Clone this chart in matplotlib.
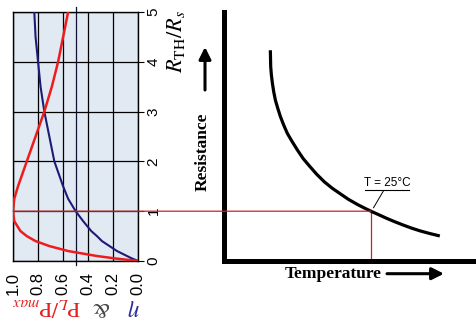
import matplotlib
matplotlib.use("Agg")
import matplotlib.pyplot as plt
from matplotlib.patches import ConnectionPatch, FancyArrowPatch

plt.rcParams['font.family'] = ['Liberation Sans', 'DejaVu Sans']
plt.rcParams['mathtext.fontset'] = 'stix'

# Load-matching curves: efficiency and relative power vs. R_TH / R_s
ratio = [0.0, 0.05, 0.1, 0.2, 0.3, 0.4, 0.5, 0.6, 0.8, 1.0, 1.25, 1.5,
         2.0, 2.5, 3.0, 3.5, 4.0, 4.5, 5.0]
efficiency = [0.0, 0.05, 0.09, 0.17, 0.23, 0.29, 0.33, 0.375, 0.44, 0.5, 0.56,
              0.6, 0.67, 0.71, 0.75, 0.78, 0.8, 0.82, 0.83]
power_ratio = [0.0, 0.18, 0.33, 0.56, 0.71, 0.82, 0.89, 0.94, 0.99, 1.0, 0.99,
               0.96, 0.89, 0.82, 0.75, 0.69, 0.64, 0.6, 0.56]
eff_ticks = [1.0, 0.8, 0.6, 0.4, 0.2, 0.0]
eff_labels = ['1.0', '0.8', '0.6', '0.4', '0.2', '0.0']
ratio_ticks = [0, 1, 2, 3, 4, 5]
eff_marker = 0.5

# Thermistor characteristic: resistance (relative to R at 25 °C) vs. temperature
temperature = [-5.9, -5.8, -5.58, -5.28, -4.88, -4.36, -3.65, -2.82, -1.81,
               -0.67, 0.77, 2.39, 4.14, 6.07, 8.22, 10.67, 13.13, 15.58,
               18.04, 20.71, 22.79, 25.0, 29.9, 32.45, 35.0, 37.5, 40.1,
               42.9, 45.7]
resistance = [4.20, 3.90, 3.73, 3.57, 3.40, 3.23, 3.07, 2.90, 2.73,
              2.56, 2.40, 2.23, 2.06, 1.91, 1.75, 1.59, 1.46, 1.35,
              1.24, 1.14, 1.07, 1.0, 0.855, 0.785, 0.72, 0.66, 0.605,
              0.555, 0.51]
t_ref = 25.0
r_ref = 1.0

W, H = 477, 332
fig = plt.figure(figsize=(W / 100, H / 100), dpi=100)
fig.patch.set_facecolor('white')


def fx(px):
    return px / W


def fy(py):
    return 1 - py / H


# ---- left panel (rotated layout) ----
ax1 = fig.add_axes([fx(13), fy(261), (138.3 - 13) / W, (261 - 12) / H])
ax1.set_facecolor('#e1e9f3')
ax1.set_xlim(1.0, 0.0)
ax1.set_ylim(0, 5)
ax1.plot(efficiency, ratio, color='#1c1c78', lw=1.5, zorder=3)
ax1.plot(power_ratio, ratio, color='#ee1c1c', lw=1.8, zorder=3)
ax1.set_xticks(eff_ticks)
ax1.set_xticklabels(eff_labels, rotation=90, fontsize=12)
ax1.set_yticks(ratio_ticks)
ax1.set_yticklabels([str(v) for v in ratio_ticks], rotation=90, fontsize=11,
                    va='center')
ax1.yaxis.tick_right()
ax1.tick_params(axis='x', length=0, pad=8)
ax1.tick_params(axis='y', length=4, width=0.8, pad=2)
ax1.grid(True, color='black', lw=0.9)
ax1.set_axisbelow(True)
for s in ax1.spines.values():
    s.set_color('black')
    s.set_linewidth(1.0)
ax1.plot([eff_marker, eff_marker], [-0.08, 5.11], color='#111133', lw=0.9,
         clip_on=False, zorder=2)

fig.text(fx(176), fy(41), r'$R_{\mathrm{TH}}/R_s$', rotation=90, fontsize=16,
         ha='center', va='center')
fig.text(fx(134), fy(308), r'$\eta$', rotation=180, fontsize=17,
         color='#2a2aa0', ha='center', va='center')
fig.text(fx(101), fy(307), '&', rotation=180, fontsize=16,
         family='STIXGeneral', color='#444444', ha='center', va='center')
fig.text(fx(46), fy(307), r'$\mathrm{P}_L/\mathrm{P}_{max}$', rotation=180,
         fontsize=16, color='#e02020', ha='center', va='center')

# ---- right panel: thermistor curve ----
ax2 = fig.add_axes([fx(224.5), fy(261), (W - 224.5) / W, (261 - 12) / H])
ax2.set_facecolor('none')
ax2.set_xlim(-20, 57.6)
ax2.set_ylim(0, 5)
ax2.set_xticks([])
ax2.set_yticks([])
for side in ('top', 'right'):
    ax2.spines[side].set_visible(False)
for side in ('left', 'bottom'):
    ax2.spines[side].set_linewidth(3.6)
    ax2.spines[side].set_color('black')
ax2.plot(temperature, resistance, color='black', lw=2.3, zorder=3,
         solid_joinstyle='round')
ax2.vlines(t_ref, 0, r_ref, color='#cc2222', lw=0.9, zorder=2)

link = ConnectionPatch(xyA=(1.0, r_ref), coordsA=ax1.transData,
                       xyB=(t_ref, r_ref), coordsB=ax2.transData,
                       color='#cc2222', lw=0.9, zorder=4)
fig.add_artist(link)

# reference-point callout
ax2.text(30.0, 1.45, 'T = 25°C', fontsize=8.5, ha='center', va='bottom')
ax2.plot([23.25, 36.75], [1.426, 1.426], color='black', lw=0.8)
ax2.plot([28.87, 25.8], [1.41, 1.07], color='black', lw=0.7)

# axis titles with direction arrows
fig.text(fx(202.5), fy(152), 'Resistance', rotation=90, fontsize=12.5,
         family='Liberation Serif', weight='bold', ha='center', va='center')
fig.text(fx(333), fy(273.5), 'Temperature', fontsize=12.5,
         family='Liberation Serif', weight='bold', ha='center', va='center')
arrow_kw = dict(arrowstyle='-|>,head_length=0.6,head_width=0.3', color='black',
                lw=2.2, shrinkA=0, shrinkB=0)
fig.add_artist(FancyArrowPatch(
    (fx(205), fy(90)), (fx(205), fy(47)), transform=fig.transFigure,
    mutation_scale=12, **arrow_kw))
fig.add_artist(FancyArrowPatch(
    (fx(387), fy(273.7)), (fx(444), fy(273.7)), transform=fig.transFigure,
    mutation_scale=12, **arrow_kw))

fig.savefig('out.png', dpi=100)
